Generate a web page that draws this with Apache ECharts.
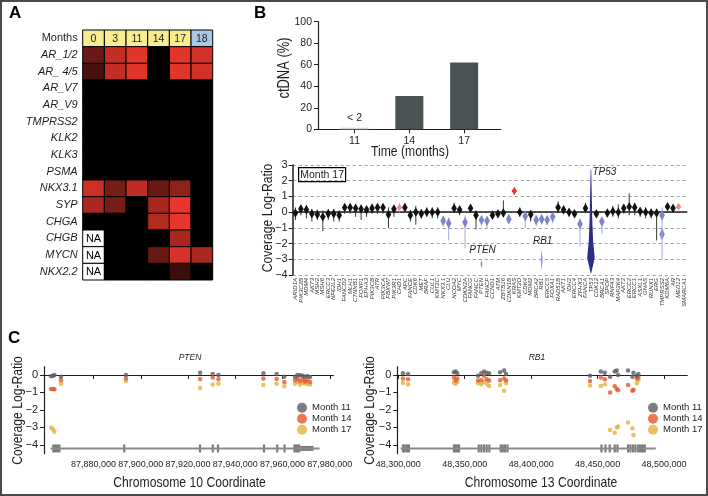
<!DOCTYPE html>
<html>
<head>
<meta charset="utf-8">
<script src="https://cdn.jsdelivr.net/npm/echarts@6/dist/echarts.min.js"></script>
<style>
html, body { margin: 0; padding: 0; background: #fff; }
#main { width: 708px; height: 496px; }
</style>
</head>
<body>
<div id="main"></div>
<script>
// ---- panel A: expression heatmap ----
var months = ['0', '3', '11', '14', '17', '18'];
var monthColors = ['#f7ec8f', '#f7ec8f', '#f7ec8f', '#f7ec8f', '#f7ec8f', '#a9c8e6'];
var markers = ['AR_1/2', 'AR_ 4/5', 'AR_V7', 'AR_V9', 'TMPRSS2', 'KLK2', 'KLK3', 'PSMA',
  'NKX3.1', 'SYP', 'CHGA', 'CHGB', 'MYCN', 'NKX2.2'];
// relative intensity, 0 = not detected, null = NA
var expr = [
  [0.45, 0.82, 0.95, 0, 0.95, 0.88],
  [0.3, 0.82, 0.95, 0, 0.95, 0.88],
  [0, 0, 0, 0, 0, 0],
  [0, 0, 0, 0, 0, 0],
  [0, 0, 0, 0, 0, 0],
  [0, 0, 0, 0, 0, 0],
  [0, 0, 0, 0, 0, 0],
  [0, 0, 0, 0, 0, 0],
  [0.86, 0.5, 0.8, 0.45, 0.6, 0],
  [0.72, 0.5, 0, 0.7, 0.97, 0],
  [0, 0, 0, 0.75, 0.97, 0],
  [null, 0, 0, 0, 0.7, 0],
  [null, 0, 0, 0.45, 0.9, 0.72],
  [null, 0, 0, 0, 0.25, 0]
];

// ---- panel B: ctDNA fraction ----
var ctMonths = [11, 14, 17];
var ctValues = [1.5, 31, 62];

// ---- panel B: coverage log-ratio per gene, month 17 ----
var genes = ['ARID1A','PIK3C2B','MDM4','AKT3','MSH2','MSH6','ERCC3','NFE2L2','IDH1','FANCD2',
  'MLH1','CTNNB1','FOXP1','EPHA3','PIK3CB','ATR','PIK3CA','FBXW7','PIK3R1','CHD1',
  'APC','FANCE','CDK6','MET','BRAF','CUL1','KMT2C','NKX3.1','CLU','NCOA2',
  'MYC','CDKN2A','FANCG','FANCC','PTEN','FANCF','CCND1','ATM','ZBTB16','CDKN1B',
  'KRAS','KMT2D','CDK4','MDM2','BRCA2','RB1','ERCC5','FOXA1','RAD51B','AKT1',
  'IDH2','ERCC4','ZFHX3','FANCA','TP53','CDK12','BRCA1','SPOP','RNF43','MAP2K4',
  'AKT2','ERCC2','ERCC1','ASXL1','GNAS','RUNX1','ERG','TMPRSS2','KDM6A','AR',
  'MED12','SMARCA1'];
var gMed = [-0.05,0.2,0.15,-0.1,-0.15,-0.3,-0.1,-0.1,-0.2,0.3,
  0.3,0.25,0.2,0.15,0.25,0.3,0.3,-0.15,0.2,0.3,
  0.3,-0.2,0,-0.1,0,0,0,-0.55,-0.7,0.25,
  0.15,-0.65,0.25,-0.2,-0.5,-0.55,-0.2,-0.1,-0.05,-0.45,
  1.35,0,-0.25,-0.15,-0.5,-0.45,-0.5,-0.3,0.3,0.15,
  0,-0.1,-0.75,0.25,-2.9,-0.1,-0.6,-0.05,0.05,0,
  0.25,0.35,0.3,0.05,0,-0.05,-0.05,-0.2,0.35,0.25,
  0.35,null];
var gLo = [-0.5,-0.2,-0.4,-0.6,-0.5,-1.2,-0.5,-0.6,-0.6,-0.1,
  -0.1,-0.3,-0.5,-0.3,-0.1,-0.1,-0.1,-1.0,-0.3,0.0,
  0.0,-0.6,-0.8,-0.4,-0.3,-0.4,-0.4,-0.9,-1.8,0.0,
  -0.2,-2.3,0.0,-1.1,-0.9,-1.0,-0.4,-0.3,-0.3,-0.7,
  1.1,-0.3,-1.0,-0.6,-0.9,-0.8,-0.8,-0.7,0.0,-0.1,
  -0.3,-0.3,-2.2,0.0,-3.9,-0.3,-1.4,-0.3,-0.3,-0.4,
  -0.1,-0.2,-0.2,-0.3,-0.4,-0.4,-1.8,-3.0,0.1,0.0,
  0.15,null];
var gHi = [0.3,0.45,0.45,0.2,0.15,0.1,0.2,0.2,0.1,0.5,
  0.5,0.5,0.45,0.4,0.5,0.5,0.5,0.3,0.4,0.6,
  0.55,0.15,0.4,0.2,0.3,0.3,0.3,-0.3,-0.35,0.6,
  0.4,-0.2,0.5,0.1,-0.3,-0.3,0.1,0.1,0.75,-0.2,
  1.6,0.3,0.0,0.1,-0.2,-0.2,-0.3,-0.1,0.7,0.4,
  0.2,0.1,-0.4,0.6,2.7,0.1,-0.35,0.15,0.4,0.5,
  0.5,1.2,0.6,0.3,0.3,0.2,0.2,0.3,0.6,0.45,
  0.55,null];
// k = neutral, b = loss, r = gain, p = weak gain, n = TP53 (homozygous), - = none
var gType = ('kkkkkkkkkk' + 'kkkkkkkkkp' + 'kkkkkkkbbk' + 'kbkkbbkkkb' + 'rkbkbbbbkk' +
  'kkbknkbkkk' + 'kkkkkkkbkk' + 'p-').split('');
// separate low-lying part of some distributions
var lowGenes = ['PTEN', 'RB1', 'TMPRSS2'];
var lowLo = [-3.6, -3.7, -1.8];
var lowHi = [-3.0, -2.4, -1.0];

// ---- panel C: PTEN ----
var ptenPos = [87862000, 87862800, 87863400, 87866200, 87893700, 87925100, 87930450, 87932850,
  87951900, 87957500, 87960750, 87965300, 87966400, 87967400, 87968500, 87969500, 87970500, 87971650];
var ptenM11 = [-0.08, -0.05, 0, -0.1, 0, 0.13, 0.05, 0, 0.1, 0.05, -0.1, -0.1, 0, -0.02, -0.05, -0.1, -0.08, -0.12];
var ptenM14 = [-0.8, -0.8, -0.82, -0.3, -0.2, -0.23, -0.15, -0.25, -0.2, -0.23, -0.4, -0.3, -0.2, -0.35, -0.25, -0.38, -0.3, -0.4];
var ptenM17 = [-3.0, -3.1, -3.25, -0.5, -0.35, -0.75, -0.55, -0.5, -0.57, -0.5, -0.65, -0.5, -0.4, -0.55, -0.45, -0.48, -0.5, -0.55];
var ptenSpan = [87861800, 87975700];
var ptenExons = [[87862500, 87866000], [87892500, 87893200], [87924600, 87925300], [87930000, 87930700],
  [87932200, 87932900], [87951700, 87952400], [87957300, 87958000], [87960400, 87961100], [87964600, 87967500]];
var ptenUtr = [[87967500, 87973100]];

// ---- panel C: RB1 ----
var rb1Pos = [48303500, 48307300, 48341900, 48343200, 48344400, 48360000, 48362500, 48364500, 48366500,
  48368300, 48376600, 48379600, 48381100, 48444300, 48452400, 48455400, 48459400, 48462900, 48464400,
  48465400, 48472900, 48476200, 48477000, 48479500, 48480700];
var rb1M11 = [0.1, 0.05, 0.15, 0.2, 0.1, -0.05, 0.1, 0.2, 0.13, 0.1, 0.15, 0.25, 0.05, -0.04, 0.2, 0.13,
  -0.1, 0.2, 0.25, 0, 0.25, -0.1, 0.13, -0.05, 0.05];
var rb1M14 = [-0.2, -0.25, -0.15, -0.3, -0.2, -0.32, -0.3, -0.05, -0.25, -0.32, -0.3, -0.2, -0.32, -0.35,
  -0.15, -0.25, -1.0, -0.65, -0.8, -0.88, -0.57, -0.9, -0.85, -0.2, -0.15];
var rb1M17 = [-0.45, -0.53, -0.45, -0.5, -0.4, -0.48, -0.53, -0.4, -0.5, -0.63, -0.57, -0.9, -0.48, -0.6,
  -0.63, -0.53, -3.15, -3.3, -3.0, -2.95, -2.72, -3.05, -3.43, -0.48, -0.3];
var rb1Span = [48301800, 48493800];
var rb1Exons = [[48302700, 48303300], [48304000, 48304600], [48305700, 48306300], [48307200, 48307800],
  [48341100, 48341700], [48342400, 48343000], [48343600, 48344200], [48344900, 48345500],
  [48359700, 48360300], [48361700, 48362300], [48363700, 48364300], [48365700, 48366300], [48367700, 48368300],
  [48376300, 48376900], [48377800, 48378400], [48379500, 48380100], [48381300, 48381900],
  [48452100, 48452700], [48455100, 48455700], [48458300, 48458900], [48462100, 48462700], [48464100, 48464700],
  [48472100, 48472700], [48473900, 48474500], [48475900, 48476500], [48477700, 48478300], [48479800, 48486300]];

var trackLevel = -4.2;
var monthNames = ['Month 11', 'Month 14', 'Month 17'];
var monthDot = ['#5b5c5e', '#e8552d', '#e2b33c'];

var FONT = "'Liberation Sans', Arial, sans-serif";
var INK = '#1e1e1e';

var chart = echarts.init(document.getElementById('main'));

function exprColor(v) {
  return 'rgb(' + Math.round(238 * v) + ',' + Math.round(56 * v) + ',' + Math.round(44 * v) + ')';
}
function minus(v) {
  return v < 0 ? '\u2212' + (-v) : '' + v;
}

var headerData = months.map(function (m, c) { return [c, 0]; });
var bodyData = [];
expr.forEach(function (row, r) {
  row.forEach(function (v, c) { bodyData.push([c, r + 1, v === null ? -1 : v]); });
});

function cellRect(api) {
  var c = api.coord([api.value(0), api.value(1)]);
  var s = api.size([1, 1]);
  return { x: c[0] - s[0] / 2, y: c[1] - s[1] / 2, width: s[0], height: s[1], cx: c[0], cy: c[1] };
}
function renderHeader(params, api) {
  var r = cellRect(api);
  var c = api.value(0);
  return { type: 'group', children: [
    { type: 'rect', shape: { x: r.x, y: r.y, width: r.width, height: r.height },
      style: { fill: monthColors[c], stroke: '#000', lineWidth: 1 } },
    { type: 'text', x: r.cx, y: r.cy + 0.5,
      style: { text: months[c], fill: INK, font: '10.5px ' + FONT, align: 'center', verticalAlign: 'middle' } }
  ] };
}
function renderCell(params, api) {
  var r = cellRect(api);
  var v = api.value(2);
  var rect = { type: 'rect', shape: { x: r.x, y: r.y, width: r.width, height: r.height },
    style: { fill: v < 0 ? '#fff' : exprColor(v), stroke: '#000', lineWidth: 1 } };
  if (v >= 0) return rect;
  return { type: 'group', children: [rect,
    { type: 'text', x: r.cx, y: r.cy + 0.5,
      style: { text: 'NA', fill: '#000', font: '11px ' + FONT, align: 'center', verticalAlign: 'middle' } }] };
}

var violinStyle = {
  k: { fill: '#121212', tail: '#3a3a3a', hw: 2.8, hh: 0.3 },
  b: { fill: '#7d85c8', tail: '#a3a9db', hw: 2.8, hh: 0.34 },
  r: { fill: '#e2372c', tail: '#e2372c', hw: 2.8, hh: 0.24 },
  p: { fill: '#f08c8c', tail: '#f2a0a0', hw: 2.8, hh: 0.24 },
  n: { fill: '#2c2d86', tail: '#2c2d86' }
};
var violinData = [];
genes.forEach(function (g, i) {
  if (gMed[i] !== null) violinData.push([i, gMed[i], gLo[i], gHi[i]]);
});
function renderViolin(params, api) {
  var i = api.value(0), med = api.value(1), lo = api.value(2), hi = api.value(3);
  var st = violinStyle[gType[i]];
  var x = api.coord([i, 0])[0];
  function Y(v) { return api.coord([i, v])[1]; }
  if (gType[i] === 'n') {
    var prof = [[hi, 0.3], [med + 2.5, 1.3], [med + 1, 2.2], [med + 0.4, 3.2], [med, 3.7], [med - 0.4, 2.4], [lo, 0.2]];
    var pts = prof.map(function (p) { return [x + p[1], Y(p[0])]; });
    for (var k = prof.length - 1; k >= 0; k--) pts.push([x - prof[k][1], Y(prof[k][0])]);
    return { type: 'group', children: [
      { type: 'polygon', shape: { points: pts }, style: { fill: st.fill } },
      { type: 'text', x: x + 1.5, y: Y(hi) - 2,
        style: { text: genes[i], fill: INK, font: 'italic 10px ' + FONT, align: 'left', verticalAlign: 'top' } }
    ] };
  }
  return { type: 'group', children: [
    { type: 'line', shape: { x1: x, y1: Y(hi), x2: x, y2: Y(lo) }, style: { stroke: st.tail, lineWidth: 1 } },
    { type: 'polygon', shape: { points: [[x, Y(med + st.hh)], [x + st.hw, Y(med)], [x, Y(med - st.hh)], [x - st.hw, Y(med)]] },
      style: { fill: st.fill } }
  ] };
}
var lowData = lowGenes.map(function (g, k) { return [genes.indexOf(g), lowLo[k], lowHi[k]]; });
var lowHalfWidth = { TMPRSS2: 2.6 };
var lowLabelled = ['PTEN', 'RB1'];
function renderLow(params, api) {
  var i = api.value(0), lo = api.value(1), hi = api.value(2);
  var name = genes[i];
  var x = api.coord([i, 0])[0];
  var yl = api.coord([i, lo])[1], yh = api.coord([i, hi])[1];
  var hw = lowHalfWidth[name] || 1.1;
  var kids = [{ type: 'polygon', shape: { points: [[x, yh], [x + hw, (yl + yh) / 2], [x, yl], [x - hw, (yl + yh) / 2]] },
    style: { fill: name === 'TMPRSS2' ? '#7d85c8' : '#979ed4' } }];
  if (lowLabelled.indexOf(name) >= 0) {
    kids.push({ type: 'text', x: x + 1, y: yh - 4,
      style: { text: name, fill: INK, font: 'italic 10px ' + FONT, align: 'center', verticalAlign: 'bottom' } });
  }
  return { type: 'group', children: kids };
}

function renderExon(params, api) {
  var a = api.coord([api.value(0), trackLevel]);
  var b = api.coord([api.value(1), trackLevel]);
  var h = api.value(2);
  var w = Math.max(b[0] - a[0], 2.2);
  return { type: 'rect', shape: { x: a[0], y: a[1] - h / 2, width: w, height: h }, style: { fill: '#7b7b7b' } };
}
function exonData(list, h) {
  return list.map(function (e) { return [e[0], e[1], h]; });
}
function zip(xs, ys) {
  return xs.map(function (x, k) { return [x, ys[k]]; });
}

function valueAxisStyle(fs) {
  return {
    axisLine: { show: true, lineStyle: { color: INK, width: 1.2 } },
    axisTick: { show: true, length: 4, lineStyle: { color: INK } },
    axisLabel: { color: INK, fontSize: fs, fontFamily: FONT },
    splitLine: { show: false }
  };
}
function mergeAxis(base, extra) {
  var o = {};
  Object.keys(base).forEach(function (k) { o[k] = base[k]; });
  Object.keys(extra).forEach(function (k) {
    if (o[k] && typeof o[k] === 'object' && !Array.isArray(o[k]) && typeof extra[k] === 'object' && !Array.isArray(extra[k])) {
      var m = {};
      Object.keys(o[k]).forEach(function (q) { m[q] = o[k][q]; });
      Object.keys(extra[k]).forEach(function (q) { m[q] = extra[k][q]; });
      o[k] = m;
    } else {
      o[k] = extra[k];
    }
  });
  return o;
}
// condensed-looking axis titles (no narrow face installed, so squeeze a regular one)
function axisTitle(text, x, y, vertical, size) {
  return { type: 'text', x: x, y: y, rotation: vertical ? Math.PI / 2 : 0, scaleX: 0.81,
    style: { text: text, font: (size || 15) + 'px ' + FONT, fill: INK, align: 'center', verticalAlign: 'middle' } };
}

var ptenTicks = [87880000, 87900000, 87920000, 87940000, 87960000, 87980000];
var rb1Ticks = [48300000, 48350000, 48400000, 48450000, 48500000];
var logTicks = [-4, -3, -2, -1, 0];

var option = {
  animation: false,
  backgroundColor: '#fff',
  textStyle: { fontFamily: FONT },
  grid: [
    { left: 82.7, top: 30, width: 130, height: 250 },
    { left: 318, top: 21.7, width: 182.7, height: 107.6 },
    { left: 292.7, top: 165, width: 394, height: 110 },
    { left: 44, top: 366.7, width: 289.3, height: 87 },
    { left: 397.3, top: 366.7, width: 290, height: 87 }
  ],
  xAxis: [
    { type: 'category', gridIndex: 0, data: months, show: false },
    mergeAxis(valueAxisStyle(10.5), {
      type: 'value', gridIndex: 1, min: 9, max: 19,
      axisTick: { customValues: ctMonths, length: 4 },
      axisLabel: { customValues: ctMonths, margin: 6 }
    }),
    { type: 'category', gridIndex: 2, data: genes,
      axisLine: { lineStyle: { color: INK, width: 1.5 } },
      axisTick: { show: false },
      axisLabel: { interval: 0, rotate: 90, fontSize: 6, fontStyle: 'italic', color: '#333', margin: 3 } },
    mergeAxis(valueAxisStyle(9), {
      type: 'value', gridIndex: 3, min: 87859000, max: 87981500,
      axisTick: { customValues: ptenTicks, length: 4 },
      axisLabel: { customValues: ptenTicks, margin: 6, formatter: function (v) { return echarts.format.addCommas(v); } }
    }),
    mergeAxis(valueAxisStyle(9), {
      type: 'value', gridIndex: 4, min: 48299250, max: 48517500,
      axisTick: { customValues: rb1Ticks, length: 4 },
      axisLabel: { customValues: rb1Ticks, margin: 6, formatter: function (v) { return echarts.format.addCommas(v); } }
    })
  ],
  yAxis: [
    { type: 'category', gridIndex: 0, inverse: true, data: ['Months'].concat(markers),
      axisLine: { show: false }, axisTick: { show: false },
      axisLabel: { margin: 5, color: INK,
        formatter: function (v) { return v === 'Months' ? '{n|' + v + '}' : '{i|' + v + '}'; },
        rich: { n: { fontSize: 11, fontFamily: FONT, color: INK },
                i: { fontSize: 11, fontFamily: FONT, fontStyle: 'italic', color: INK } } } },
    mergeAxis(valueAxisStyle(10.5), {
      type: 'value', gridIndex: 1, min: 0, max: 100, interval: 20,
      axisLabel: { margin: 6 }
    }),
    mergeAxis(valueAxisStyle(11), {
      type: 'value', gridIndex: 2, min: -4, max: 3, interval: 1,
      axisLine: { lineStyle: { color: INK, width: 1.5 } },
      axisLabel: { margin: 5, formatter: minus },
      splitLine: { show: true, lineStyle: { color: '#a0a0a0', type: [3, 3], width: 1 } }
    }),
    mergeAxis(valueAxisStyle(11), {
      type: 'value', gridIndex: 3, min: -4.5, max: 0.47,
      axisTick: { customValues: logTicks, length: 4 },
      axisLabel: { customValues: logTicks, margin: 6, formatter: minus }
    }),
    mergeAxis(valueAxisStyle(11), {
      type: 'value', gridIndex: 4, min: -4.5, max: 0.47,
      axisTick: { customValues: logTicks, length: 4 },
      axisLabel: { customValues: logTicks, margin: 6, formatter: minus }
    })
  ],
  legend: [
    { left: 297, top: 402.7, padding: 0, orient: 'vertical', itemGap: 1, itemWidth: 10, itemHeight: 10, icon: 'circle',
      selectedMode: false, data: monthNames, textStyle: { fontSize: 9.5, color: INK } },
    { left: 648, top: 402.7, padding: 0, orient: 'vertical', itemGap: 1, itemWidth: 10, itemHeight: 10, icon: 'circle',
      selectedMode: false, data: monthNames, textStyle: { fontSize: 9.5, color: INK } }
  ],
  graphic: [
    { type: 'rect', shape: { x: 1, y: 1, width: 706, height: 494 }, style: { fill: 'none', stroke: '#4a4a4a', lineWidth: 2 }, z: 100 },
    { type: 'text', left: 9, top: 5, style: { text: 'A', font: 'bold 17px ' + FONT, fill: '#000' } },
    { type: 'text', left: 254, top: 5, style: { text: 'B', font: 'bold 17px ' + FONT, fill: '#000' } },
    { type: 'text', left: 8, top: 330, style: { text: 'C', font: 'bold 17px ' + FONT, fill: '#000' } },
    { type: 'group', left: 298, top: 167, children: [
      { type: 'rect', shape: { x: 0, y: 0, width: 47, height: 14 }, style: { fill: '#fff', stroke: '#000', lineWidth: 1.2 } },
      { type: 'text', x: 23.5, y: 7.5, style: { text: 'Month 17', font: '10.5px ' + FONT, fill: INK, align: 'center', verticalAlign: 'middle' } }
    ] },
    { type: 'text', x: 190, y: 358, style: { text: 'PTEN', font: 'italic 8.5px ' + FONT, fill: INK, align: 'center', verticalAlign: 'middle' } },
    { type: 'text', x: 537, y: 358, style: { text: 'RB1', font: 'italic 8.5px ' + FONT, fill: INK, align: 'center', verticalAlign: 'middle' } },
    axisTitle('ctDNA (%)', 285, 68, true, 16),
    axisTitle('Time (months)', 410, 152, false),
    axisTitle('Coverage Log-Ratio', 267.5, 218, true),
    axisTitle('Coverage Log-Ratio', 17.5, 410.5, true),
    axisTitle('Coverage Log-Ratio', 369.5, 410.5, true),
    axisTitle('Chromosome 10 Coordinate', 189.5, 482.5, false),
    axisTitle('Chromosome 13 Coordinate', 541, 482.5, false)
  ],
  series: [
    { type: 'custom', xAxisIndex: 0, yAxisIndex: 0, renderItem: renderHeader, data: headerData },
    { type: 'custom', xAxisIndex: 0, yAxisIndex: 0, renderItem: renderCell, data: bodyData },
    { type: 'bar', xAxisIndex: 1, yAxisIndex: 1, barWidth: 28,
      data: ctMonths.map(function (m, k) {
        var item = { value: [m, ctValues[k]], itemStyle: { color: k === 0 ? '#d6d6d6' : '#4b5254' } };
        if (k === 0) item.label = { show: true, position: 'top', distance: 4, formatter: '< 2', fontSize: 10.5, color: INK };
        return item;
      }) },
    { type: 'custom', xAxisIndex: 2, yAxisIndex: 2, renderItem: renderLow, data: lowData, z: 3 },
    { type: 'custom', xAxisIndex: 2, yAxisIndex: 2, renderItem: renderViolin, data: violinData, z: 4 },

    { type: 'line', xAxisIndex: 3, yAxisIndex: 3, symbol: 'none', silent: true,
      lineStyle: { color: '#8a8a8a', width: 2 }, data: [[ptenSpan[0], trackLevel], [ptenSpan[1], trackLevel]] },
    { type: 'custom', xAxisIndex: 3, yAxisIndex: 3, renderItem: renderExon, data: exonData(ptenExons, 8).concat(exonData(ptenUtr, 5)), encode: { x: [0, 1], y: 2 } },
    { type: 'line', xAxisIndex: 4, yAxisIndex: 4, symbol: 'none', silent: true,
      lineStyle: { color: '#8a8a8a', width: 2 }, data: [[rb1Span[0], trackLevel], [rb1Span[1], trackLevel]] },
    { type: 'custom', xAxisIndex: 4, yAxisIndex: 4, renderItem: renderExon, data: exonData(rb1Exons, 8), encode: { x: [0, 1], y: 2 } },

    { name: monthNames[2], type: 'scatter', xAxisIndex: 3, yAxisIndex: 3, symbolSize: 4.5, itemStyle: { color: monthDot[2] }, data: zip(ptenPos, ptenM17) },
    { name: monthNames[1], type: 'scatter', xAxisIndex: 3, yAxisIndex: 3, symbolSize: 4.5, itemStyle: { color: monthDot[1] }, data: zip(ptenPos, ptenM14) },
    { name: monthNames[0], type: 'scatter', xAxisIndex: 3, yAxisIndex: 3, symbolSize: 4.5, itemStyle: { color: monthDot[0] }, data: zip(ptenPos, ptenM11) },
    { name: monthNames[2], type: 'scatter', xAxisIndex: 4, yAxisIndex: 4, symbolSize: 4.5, itemStyle: { color: monthDot[2] }, data: zip(rb1Pos, rb1M17) },
    { name: monthNames[1], type: 'scatter', xAxisIndex: 4, yAxisIndex: 4, symbolSize: 4.5, itemStyle: { color: monthDot[1] }, data: zip(rb1Pos, rb1M14) },
    { name: monthNames[0], type: 'scatter', xAxisIndex: 4, yAxisIndex: 4, symbolSize: 4.5, itemStyle: { color: monthDot[0] }, data: zip(rb1Pos, rb1M11) }
  ]
};

chart.setOption(option);
</script>
</body>
</html>
